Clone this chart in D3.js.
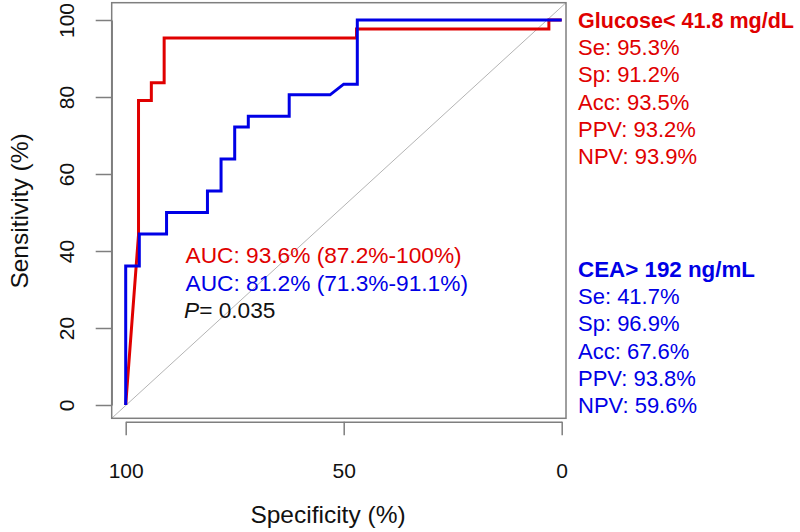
<!DOCTYPE html>
<html><head><meta charset="utf-8">
<script src="https://cdn.jsdelivr.net/npm/d3@7"></script>
<style>
html,body{margin:0;padding:0;background:#fff;}
svg{display:block;font-family:"Liberation Sans",Arial,Helvetica,sans-serif;}
</style></head>
<body><svg id="chart" width="800" height="532"></svg>
<script>
// ---- data ----
const glucoseSpec = [100, 97.06, 97.06, 94.12, 94.12, 91.18, 91.18, 47.06, 47.06, 2.94, 2.94, 0];
const glucoseSens = [0, 44.19, 79.07, 79.07, 83.72, 83.72, 95.35, 95.35, 97.67, 97.67, 100, 100];
const ceaSpec = [100, 100, 96.88, 96.88, 90.63, 90.63, 81.25, 81.25, 78.13, 78.13, 75, 75, 71.88, 71.88, 62.5, 62.5, 53.13, 50, 46.88, 46.88, 0];
const ceaSens = [0, 36.11, 36.11, 44.44, 44.44, 50, 50, 55.56, 55.56, 63.89, 63.89, 72.22, 72.22, 75, 75, 80.56, 80.56, 83.33, 83.33, 100, 100];
const xTicks = [100, 50, 0];
const yTicks = [0, 20, 40, 60, 80, 100];
const aucGlucose = "AUC: 93.6% (87.2%-100%)";
const aucCea = "AUC: 81.2% (71.3%-91.1%)";
const pValue = "0.035";
const glucoseTitle = "Glucose< 41.8 mg/dL";
const glucoseStats = ["Se: 95.3%", "Sp: 91.2%", "Acc: 93.5%", "PPV: 93.2%", "NPV: 93.9%"];
const ceaTitle = "CEA> 192 ng/mL";
const ceaStats = ["Se: 41.7%", "Sp: 96.9%", "Acc: 67.6%", "PPV: 93.8%", "NPV: 59.6%"];

// ---- layout ----
const RED = "#e00000", BLUE = "#0000e6", GREY = "#7f7f7f";
const box = {left: 111.7, right: 566, top: 2.7, bottom: 418.3};
const x = d3.scaleLinear().domain([100, 0]).range([125.7, 561.7]);
const y = d3.scaleLinear().domain([0, 100]).range([405, 20]);

const svg = d3.select("#chart");

svg.append("defs").append("clipPath").attr("id", "clip")
  .append("rect").attr("x", box.left).attr("y", box.top)
  .attr("width", box.right - box.left).attr("height", box.bottom - box.top);

// diagonal reference
svg.append("line").attr("clip-path", "url(#clip)")
  .attr("x1", box.left).attr("y1", box.bottom).attr("x2", box.right).attr("y2", box.top)
  .attr("stroke", "#b4b4b4").attr("stroke-width", 1);

// curves
const line = d3.line().x(d => x(d[0])).y(d => y(d[1]));
svg.append("path").datum(glucoseSpec.map((s, i) => [s, glucoseSens[i]]))
  .attr("d", line).attr("fill", "none").attr("stroke", RED).attr("stroke-width", 3)
  .attr("stroke-linejoin", "miter");
svg.append("path").datum(ceaSpec.map((s, i) => [s, ceaSens[i]]))
  .attr("d", line).attr("fill", "none").attr("stroke", BLUE).attr("stroke-width", 3)
  .attr("stroke-linejoin", "miter");

// box
svg.append("rect").attr("x", box.left).attr("y", box.top)
  .attr("width", box.right - box.left).attr("height", box.bottom - box.top)
  .attr("fill", "none").attr("stroke", GREY).attr("stroke-width", 1.5);

// y axis
const yAxis = svg.append("g").attr("transform", `translate(${box.left},0)`)
  .call(d3.axisLeft(y).tickValues(yTicks).tickSize(16).tickSizeOuter(0).tickFormat(d3.format("d")));
yAxis.select(".domain").attr("stroke", GREY).attr("stroke-width", 1.5);
yAxis.selectAll(".tick line").attr("stroke", GREY).attr("stroke-width", 1.5);
yAxis.selectAll(".tick text").attr("fill", "#111").style("font-size", "21px")
  .attr("x", null).attr("dy", null)
  .attr("transform", "translate(-38,0) rotate(-90)")
  .attr("text-anchor", "middle");

// x axis
const xAxis = svg.append("g").attr("transform", `translate(0,421.7)`)
  .call(d3.axisBottom(x).tickValues(xTicks).tickSize(13.5).tickSizeOuter(0).tickFormat(d3.format("d")));
xAxis.select(".domain").attr("stroke", GREY).attr("stroke-width", 1.5);
xAxis.selectAll(".tick text").attr("fill", "#111").style("font-size", "21px")
  .attr("y", 56).attr("dy", null);
xAxis.selectAll(".tick line").attr("stroke", GREY).attr("stroke-width", 1.5);

// axis titles
svg.append("text").attr("x", 328).attr("y", 523)
  .attr("text-anchor", "middle").style("font-size", "24.5px").attr("fill", "#111")
  .text("Specificity (%)");
svg.append("text").attr("transform", `translate(28,211) rotate(-90)`)
  .attr("text-anchor", "middle").style("font-size", "24.5px").attr("fill", "#111")
  .text("Sensitivity (%)");

// AUC annotations
const ann = svg.append("g").style("font-size", "22.7px");
ann.append("text").attr("x", 185.5).attr("y", 263).attr("fill", RED).text(aucGlucose);
ann.append("text").attr("x", 185.5).attr("y", 290.5).attr("fill", BLUE).text(aucCea);
const pt = ann.append("text").attr("x", 184).attr("y", 318).attr("fill", "#111");
pt.append("tspan").style("font-style", "italic").text("P");
pt.append("tspan").text("= " + pValue);

// right-hand stats
function block(title, stats, color, y0, titleLen) {
  const g = svg.append("g").style("font-size", "22px").attr("fill", color);
  g.append("text").attr("x", 578).attr("y", y0).style("font-weight", "bold")
    .attr("textLength", titleLen).attr("lengthAdjust", "spacingAndGlyphs").text(title);
  stats.forEach((s, i) => g.append("text").attr("x", 578).attr("y", y0 + 27.2 * (i + 1)).text(s));
}
block(glucoseTitle, glucoseStats, RED, 28, 216);
block(ceaTitle, ceaStats, BLUE, 277, 177);
</script></body></html>
